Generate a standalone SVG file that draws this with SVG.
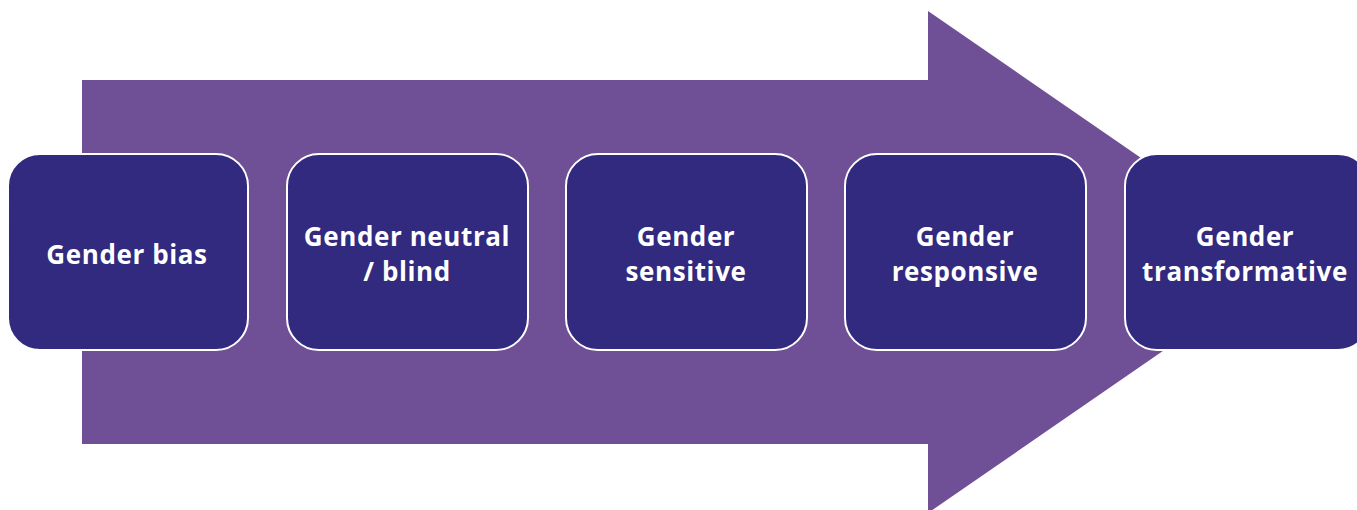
<svg xmlns="http://www.w3.org/2000/svg" width="1357" height="510" viewBox="0 0 1357 510">
<style>
.box{fill:#312A7F;stroke:#FFFFFF;stroke-width:2}
.lbl{fill:#FFFFFF;font-family:"Open Sans","Liberation Sans",sans-serif;font-weight:700;font-size:26px;letter-spacing:0.6px;text-anchor:middle}
</style>
<rect width="1357" height="510" fill="#FFFFFF"/>
<g id="arrow">
<polygon points="82,80 928,80 928,11 1292,262 928,513 928,444 82,444" fill="#6F4F96"/>
</g>
<g id="node1">
<rect class="box" x="8" y="154" width="240" height="196" rx="32"/>
<text class="lbl" x="127" y="264">Gender bias</text>
</g>
<g id="node2">
<rect class="box" x="287" y="154" width="241" height="196" rx="32"/>
<text class="lbl" x="407" y="246">Gender neutral</text>
<text class="lbl" x="407" y="281">/ blind</text>
</g>
<g id="node3">
<rect class="box" x="566" y="154" width="241" height="196" rx="32"/>
<text class="lbl" x="686" y="246">Gender</text>
<text class="lbl" x="686" y="281">sensitive</text>
</g>
<g id="node4">
<rect class="box" x="845" y="154" width="241" height="196" rx="32"/>
<text class="lbl" x="965" y="246">Gender</text>
<text class="lbl" x="965" y="281">responsive</text>
</g>
<g id="node5">
<rect class="box" x="1125" y="154" width="245" height="196" rx="32"/>
<text class="lbl" x="1245" y="246">Gender</text>
<text class="lbl" x="1245" y="281">transformative</text>
</g>
<g id="connectors"></g>
</svg>
